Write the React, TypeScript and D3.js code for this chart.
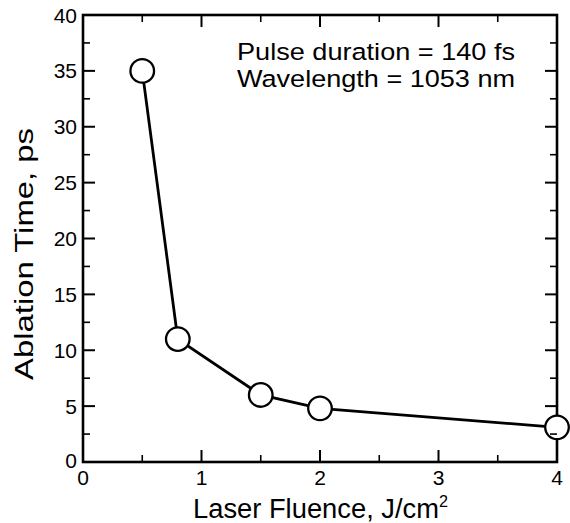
import React from "react";
import * as d3 from "d3";

const fluence = [0.5, 0.8, 1.5, 2, 4];
const ablationTime = [35, 11, 6, 4.8, 3.1];
const xTicks = [0, 1, 2, 3, 4];
const yTicks = [0, 5, 10, 15, 20, 25, 30, 35, 40];
const xMinor = [0.5, 1.5, 2.5, 3.5];
const yMinor = [2.5, 7.5, 12.5, 17.5, 22.5, 27.5, 32.5, 37.5];
const annotation = ["Pulse duration = 140 fs", "Wavelength = 1053 nm"];

export default function App() {
  const W = 570, H = 523;
  const left = 83, right = 557, top = 15, bottom = 462;
  const x = d3.scaleLinear().domain([0, 4]).range([left, right]);
  const y = d3.scaleLinear().domain([0, 40]).range([bottom, top]);
  const line = d3.line<number>().x((_, i) => x(fluence[i])).y((d) => y(d));
  const font = "Liberation Sans, Arial, Helvetica, sans-serif";
  const major = 12, minor = 7;
  return (
    <svg width={W} height={H} style={{ position: "absolute", left: 0, top: 0 }} fontFamily={font}>
      <rect x={0} y={0} width={W} height={H} fill="white" />
      <rect x={left} y={top} width={right - left} height={bottom - top} fill="none" stroke="black" strokeWidth={2.6} />
      <path d={line(ablationTime) || ""} fill="none" stroke="black" strokeWidth={2.8} />
      {ablationTime.map((v, i) => (
        <circle key={i} cx={x(fluence[i])} cy={y(v)} r={11.8} fill="white" stroke="black" strokeWidth={2.3} />
      ))}
      {xTicks.map((t) => (
        <g key={"xt" + t}>
          <line x1={x(t)} x2={x(t)} y1={bottom} y2={bottom - major} stroke="black" strokeWidth={2} />
          <line x1={x(t)} x2={x(t)} y1={top} y2={top + major} stroke="black" strokeWidth={2} />
          <text x={x(t)} y={485} fontSize={21} textAnchor="middle">{t}</text>
        </g>
      ))}
      {xMinor.map((t) => (
        <g key={"xm" + t}>
          <line x1={x(t)} x2={x(t)} y1={bottom} y2={bottom - minor} stroke="black" strokeWidth={1.6} />
          <line x1={x(t)} x2={x(t)} y1={top} y2={top + minor} stroke="black" strokeWidth={1.6} />
        </g>
      ))}
      {yTicks.map((t) => (
        <g key={"yt" + t}>
          <line x1={left} x2={left + major} y1={y(t)} y2={y(t)} stroke="black" strokeWidth={2} />
          <line x1={right} x2={right - major} y1={y(t)} y2={y(t)} stroke="black" strokeWidth={2} />
          <text x={77} y={y(t) + (t === 0 ? 6 : 7.5)} fontSize={21} textAnchor="end">{t}</text>
        </g>
      ))}
      {yMinor.map((t) => (
        <g key={"ym" + t}>
          <line x1={left} x2={left + minor} y1={y(t)} y2={y(t)} stroke="black" strokeWidth={1.6} />
          <line x1={right} x2={right - minor} y1={y(t)} y2={y(t)} stroke="black" strokeWidth={1.6} />
        </g>
      ))}
      {annotation.map((s, i) => (
        <text key={s} x={237} y={60 + i * 27} fontSize={24.5} textLength={278} lengthAdjust="spacingAndGlyphs">{s}</text>
      ))}
      <text x={193} y={518} fontSize={27} textLength={255} lengthAdjust="spacingAndGlyphs">
        Laser Fluence, J/cm<tspan dy={-11} fontSize={16}>2</tspan>
      </text>
      <text transform={`translate(33, 254) rotate(-90)`} fontSize={26} textAnchor="middle" textLength={252} lengthAdjust="spacingAndGlyphs">
        Ablation Time, ps
      </text>
    </svg>
  );
}
